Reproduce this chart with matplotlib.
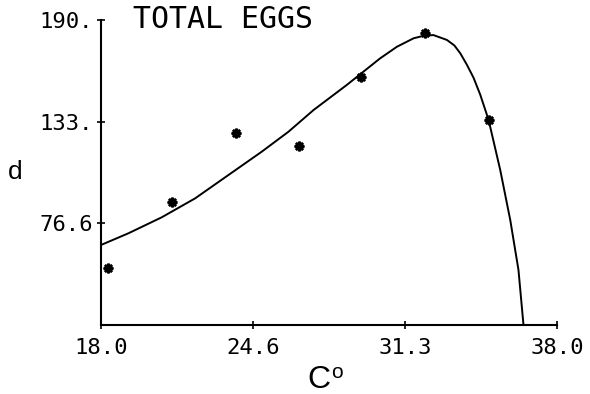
import matplotlib
matplotlib.use("Agg")
import matplotlib.pyplot as plt

# observed data points (temperature C, total eggs)
temp_obs = [18.3, 21.1, 23.9, 26.7, 29.4, 32.2, 35.0]
eggs_obs = [51.9, 88.7, 126.8, 119.9, 158.0, 182.9, 134.3]

# fitted curve
temp_fit = [18.00, 19.20, 20.66, 22.13, 23.59, 25.05, 26.22, 27.32, 28.78,
            30.24, 30.98, 31.71, 32.15, 32.58, 33.17, 33.50, 33.76, 34.05,
            34.34, 34.63, 35.00, 35.51, 35.95, 36.31, 36.53]
eggs_fit = [64.6, 71.1, 80.0, 90.6, 103.6, 116.6, 127.7, 139.8, 153.8,
            168.6, 175.1, 179.8, 181.2, 181.6, 178.9, 175.8, 171.4, 165.0,
            157.8, 148.5, 134.3, 106.4, 78.5, 50.7, 20.0]

xticks = [18.0, 24.667, 31.333, 38.0]
xticklabels = ["18.0", "24.6", "31.3", "38.0"]
yticks = [76.667, 133.333, 190.0]
yticklabels = ["76.6", "133.", "190."]

W, H = 590, 394
fig = plt.figure(figsize=(W / 100, H / 100), dpi=100)
ax = fig.add_axes([101 / W, (H - 325) / H, 456 / W, 305 / H])

ax.plot(temp_fit, eggs_fit, color="black", lw=1.4, solid_joinstyle="round")
ax.plot(temp_obs, eggs_obs, linestyle="none", marker=(8, 2, 0),
        markersize=7, markeredgewidth=1.8, color="black")

ax.set_xlim(18.0, 38.0)
ax.set_ylim(20.0, 190.0)
for s in ["top", "right"]:
    ax.spines[s].set_visible(False)
for s in ["left", "bottom"]:
    ax.spines[s].set_linewidth(1.5)

mono = "DejaVu Sans Mono"
ax.set_xticks(xticks)
ax.set_xticklabels(xticklabels, family=mono, fontsize=16)
ax.set_yticks(yticks)
ax.set_yticklabels(yticklabels, family=mono, fontsize=16)
ax.tick_params(axis="both", direction="inout", length=6, width=1.2)
ax.tick_params(axis="x", pad=6)
ax.tick_params(axis="y", pad=3)

ax.text(133, H - 20, "TOTAL EGGS", transform=None, family=mono,
        fontsize=21.5, ha="left", va="center")

fig.text(15 / W, 1 - 172 / H, "d", family="Liberation Sans", fontsize=19,
         ha="center", va="center")
fig.text(319 / W, 1 - 380 / H, "C", family="Liberation Sans", fontsize=23,
         ha="center", va="center")
fig.text(337 / W, 1 - 372 / H, "o", family="Liberation Sans", fontsize=15,
         ha="center", va="center")

fig.savefig("out.png", dpi=100)
